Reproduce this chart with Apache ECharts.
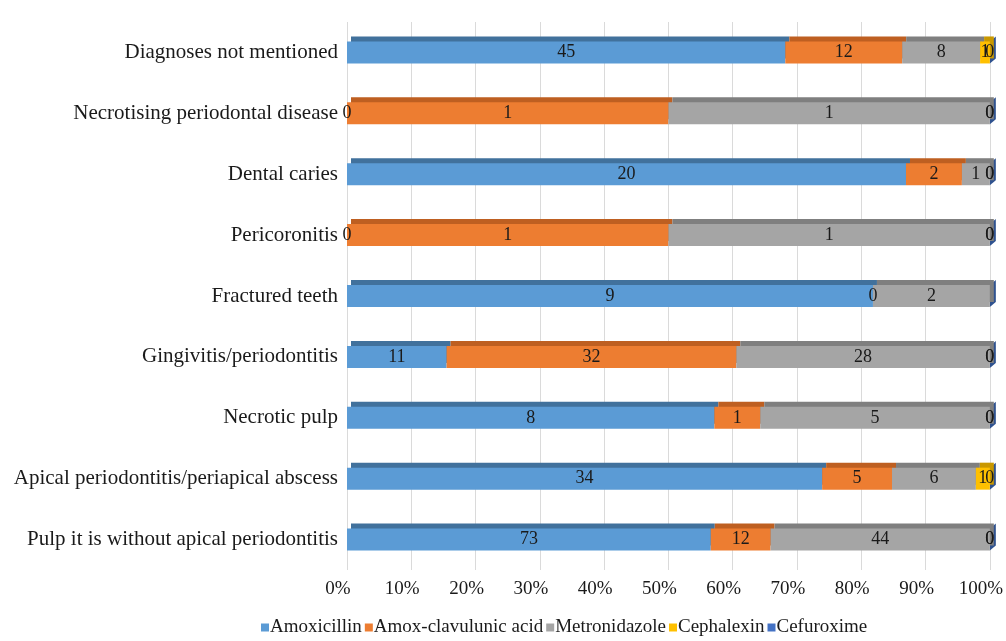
<!DOCTYPE html>
<html>
<head>
<meta charset="utf-8">
<script src="https://cdn.jsdelivr.net/npm/echarts@6/dist/echarts.min.js"></script>
<style>
  html, body { margin: 0; padding: 0; background: #fff; }
  #chart { width: 1006px; height: 641px; }
</style>
</head>
<body>
<div id="chart"></div>
<script>
// categories, top to bottom
const diagnoses = [
  "Diagnoses not mentioned",
  "Necrotising periodontal disease",
  "Dental caries",
  "Pericoronitis",
  "Fractured teeth",
  "Gingivitis/periodontitis",
  "Necrotic pulp",
  "Apical periodontitis/periapical abscess",
  "Pulp it is without apical periodontitis"
];
// prescription counts per diagnosis
const amoxicillin   = [45, 0, 20, 0, 9, 11, 8, 34, 73];
const amoxClav      = [12, 1, 2, 1, 0, 32, 1, 5, 12];
const metronidazole = [8, 1, 1, 1, 2, 28, 5, 6, 44];
const cephalexin    = [1, 0, 0, 0, 0, 0, 0, 1, 0];
const cefuroxime    = [0, 0, 0, 0, 0, 0, 0, 0, 0];
const pctTicks = ["0%", "10%", "20%", "30%", "40%", "50%", "60%", "70%", "80%", "90%", "100%"];

const drugs = [
  { name: "Amoxicillin", data: amoxicillin, color: "#5B9BD5", dark: "#41719C" },
  { name: "Amox-clavulunic acid", data: amoxClav, color: "#ED7D31", dark: "#BE5F21" },
  { name: "Metronidazole", data: metronidazole, color: "#A5A5A5", dark: "#7F7F7F" },
  { name: "Cephalexin", data: cephalexin, color: "#FFC000", dark: "#C99800" },
  { name: "Cefuroxime", data: cefuroxime, color: "#4472C4", dark: "#2F528F" }
];

const totals = diagnoses.map((d, i) => drugs.reduce((s, g) => s + g.data[i], 0));
const share = (v, i) => v / totals[i] * 100;
// where each row's stack ends (100%)
const stackEnds = diagnoses.map((d, i) => drugs.reduce((s, g) => s + share(g.data[i], i), 0));

const serif = "'Liberation Serif', 'DejaVu Serif', serif";
const BAR_H = 22;

const series = drugs.map(g => ({
  name: g.name,
  type: "bar",
  stack: "all",
  barWidth: BAR_H,
  data: g.data.map((v, i) => ({ value: share(v, i), raw: v })),
  itemStyle: {
    color: g.color,
    shadowColor: g.dark,
    shadowBlur: 0,
    shadowOffsetX: 4,
    shadowOffsetY: -5
  },
  label: {
    show: true,
    position: "inside",
    color: "#1a1a1a",
    fontFamily: serif,
    fontSize: 18,
    formatter: p => String(p.data.raw)
  },
  emphasis: { disabled: true }
}));

// dark end face of every bar (3D look)
series.push({
  name: "endFace",
  type: "custom",
  silent: true,
  data: stackEnds.map((v, i) => [v, i]),
  renderItem: (params, api) => {
    const p = api.coord([api.value(0), api.value(1)]);
    const h = BAR_H / 2;
    return {
      type: "polygon",
      shape: {
        points: [
          [p[0], p[1] - h],
          [p[0] + 6, p[1] - h - 5],
          [p[0] + 6, p[1] + h - 5],
          [p[0], p[1] + h]
        ]
      },
      style: { fill: "#2F528F" }
    };
  }
});

const chart = echarts.init(document.getElementById("chart"));
chart.setOption({
  animation: false,
  color: drugs.map(g => g.color),
  grid: { left: 347, right: 16, top: 22, bottom: 71, containLabel: false },
  legend: {
    bottom: -1,
    left: 256,
    itemWidth: 8,
    itemHeight: 8,
    itemGap: 3,
    icon: "rect",
    textStyle: { fontFamily: serif, fontSize: 19, color: "#1a1a1a", padding: [0, 0, 0, -4] },
    data: drugs.map(g => g.name)
  },
  xAxis: {
    type: "value",
    min: 0,
    max: 100,
    interval: 10,
    axisLine: { show: false },
    axisTick: { show: false },
    axisLabel: {
      margin: 10,
      fontFamily: serif,
      fontSize: 19,
      color: "#1a1a1a",
      padding: [0, 18, 0, 0],
      formatter: v => pctTicks[Math.round(v / 10)]
    },
    splitLine: { show: true, lineStyle: { color: "#DADADA", width: 1 } }
  },
  yAxis: {
    type: "category",
    inverse: true,
    data: diagnoses,
    axisLine: { show: false },
    axisTick: { show: false },
    axisLabel: {
      margin: 9,
      fontFamily: serif,
      fontSize: 21,
      color: "#1a1a1a"
    }
  },
  series: series
});
</script>
</body>
</html>
